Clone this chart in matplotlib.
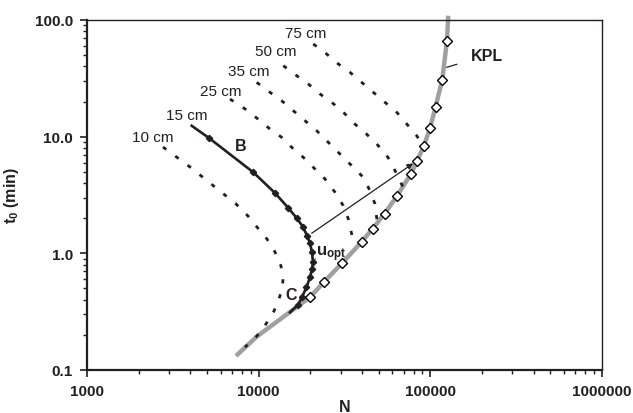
import numpy as np
import matplotlib
matplotlib.use('Agg')
import matplotlib.pyplot as plt
from matplotlib.ticker import LogLocator, NullFormatter

plt.rcParams['font.family'] = ['Liberation Sans', 'DejaVu Sans']
plt.rcParams['mathtext.fontset'] = 'custom'
plt.rcParams['mathtext.rm'] = 'Liberation Sans'
plt.rcParams['mathtext.bf'] = 'Liberation Sans:bold'

# Column-length curves (N, t0 in min)
n_10 = [2771, 3981, 5567, 7379, 8667, 9779, 11180, 12450, 13500, 13860, 13310, 12290, 11030, 9779, 8326]
t_10 = [8.15, 5.50, 3.70, 2.65, 2.09, 1.68, 1.327, 1.027, 0.779, 0.579, 0.431, 0.320, 0.248, 0.196, 0.157]

n_25 = [6808, 8326, 9739, 11640, 13620, 15570, 18200, 20810, 24340, 27840, 31120, 33280, 34840, 35930]
t_25 = [21.0, 17.3, 14.45, 11.63, 9.87, 8.11, 6.65, 5.46, 4.34, 3.34, 2.56, 1.97, 1.465, 1.179]

n_35 = [9739, 11640, 13620, 15910, 18620, 21780, 25440, 29770, 34840, 40690, 44520, 47610, 48710, 49230]
t_35 = [29.2, 24.0, 20.3, 16.7, 13.7, 11.25, 8.95, 7.10, 5.64, 4.48, 3.44, 2.65, 2.01, 1.82]

n_50 = [13920, 16660, 19460, 22770, 26640, 31120, 36410, 42590, 49770, 56670, 62270, 67470, 69310]
t_50 = [40.6, 33.3, 28.3, 23.2, 19.7, 16.2, 12.8, 10.5, 8.37, 6.65, 5.11, 4.01, 3.70]

n_75 = [20810, 24900, 29100, 34040, 39830, 46530, 54430, 63690, 74410, 83290, 89410]
t_75 = [62.3, 51.1, 42.0, 35.6, 29.2, 24.0, 19.7, 16.2, 12.4, 10.19, 8.65]

# 15 cm measured curve (B -> C)
n_15 = [4073, 5136, 9305, 12450, 14880, 16720, 18200, 19120, 19910, 20450, 20730, 20450, 19910, 18990, 17880, 16950, 15220]
t_15 = [12.4, 9.74, 4.95, 3.29, 2.45, 1.99, 1.67, 1.416, 1.226, 1.02, 0.838, 0.734, 0.623, 0.511, 0.422, 0.361, 0.312]

# kinetic plot limit
n_kpl_pts = [19910, 24080, 30580, 39830, 46150, 54100, 64200, 77200, 83600, 91900, 99500, 107400, 117400, 125000]
t_kpl_pts = [0.420, 0.571, 0.821, 1.258, 1.626, 2.19, 3.12, 4.81, 6.15, 8.37, 11.8, 18.07, 30.8, 66.4]
n_kpl_line = [7379, 9779, 15220] + n_kpl_pts + [127200]
t_kpl_line = [0.132, 0.194, 0.314] + t_kpl_pts + [108.8]

# u_opt arrow: from 15 cm curve to the KPL
arrow_start = (20370, 1.485)
arrow_end = (79580, 5.91)

length_labels = ['10 cm', '15 cm', '25 cm', '35 cm', '50 cm', '75 cm']
label_pos = [(2424, 9.93), (3824, 15.3), (6034, 24.6), (8726, 36.5), (12530, 53.7), (18870, 77.4)]

ink = '#231f20'

fig = plt.figure(figsize=(6.33, 4.14), dpi=100)
ax = fig.add_axes([0.1374, 0.1039, 0.8136, 0.8454])
ax.set_xscale('log')
ax.set_yscale('log')
ax.set_xlim(1000, 1000000)
ax.set_ylim(0.1, 100)

# KPL
ax.plot(n_kpl_line, t_kpl_line, color='#a0a0a0', lw=3.2, solid_capstyle='butt', clip_on=False, zorder=2)

# dashed column-length curves
for n, t in [(n_10, t_10), (n_25, t_25), (n_35, t_35), (n_50, t_50), (n_75, t_75)]:
    ln, = ax.plot(n, t, color=ink, lw=2.0, zorder=3)
    ln.set_dashes((1.5, 4.0))

# 15 cm curve
ax.plot(n_15, t_15, color=ink, lw=1.9, zorder=4)
ax.plot(n_15[1:-1], t_15[1:-1], ls='none', marker='D', ms=3.2, color=ink, zorder=5)

# KPL diamonds
ax.plot(n_kpl_pts, t_kpl_pts, ls='none', marker='D', ms=5.2, mfc='white', mec='black', mew=1.0, zorder=6)

# arrow
ax.annotate('', xy=arrow_end, xytext=arrow_start,
            arrowprops=dict(arrowstyle='-|>', color=ink, lw=0.9, mutation_scale=9, shrinkA=0, shrinkB=0),
            zorder=7)

# labels
for lab, (x, y) in zip(length_labels, label_pos):
    ax.text(x, y, lab, fontsize=11, color=ink, ha='center', va='center')

ax.text(7889, 8.48, 'B', fontsize=11.5, fontweight='bold', color=ink, ha='center', va='center')
ax.text(15430, 0.448, 'C', fontsize=11.5, fontweight='bold', color=ink, ha='center', va='center')
ax.text(21500, 1.0, r'$\mathbf{u_{opt}}$', fontsize=12, color=ink, ha='left', va='center')
ax.plot([20900, 21500], [0.862, 0.90], color='#888888', lw=0.8)
ax.annotate('KPL', xy=(124500, 39.3), xytext=(212400, 49.6), fontsize=11.5, fontweight='bold',
            color=ink, ha='center', va='center',
            arrowprops=dict(arrowstyle='-', color=ink, lw=0.9, shrinkA=8, shrinkB=0))

# axes styling
ax.set_xticks([1000, 10000, 100000, 1000000])
ax.set_xticklabels(['1000', '10000', '100000', '1000000'])
ax.set_yticks([0.1, 1, 10, 100])
ax.set_yticklabels(['0.1', '1.0', '10.0', '100.0'])
ax.xaxis.set_minor_locator(LogLocator(base=10, subs=np.arange(2, 10)))
ax.yaxis.set_minor_locator(LogLocator(base=10, subs=np.arange(2, 10)))
ax.xaxis.set_minor_formatter(NullFormatter())
ax.yaxis.set_minor_formatter(NullFormatter())
for lab in ax.get_xticklabels() + ax.get_yticklabels():
    lab.set_fontweight('bold')
    lab.set_fontsize(11)
    lab.set_color(ink)
ax.tick_params(which='major', direction='out', length=5, width=1.2, pad=5, colors=ink)
ax.tick_params(which='minor', direction='out', length=3, width=1.0, colors=ink)
ax.tick_params(top=False, right=False, which='both')
ax.spines['left'].set_linewidth(1.6)
ax.spines['bottom'].set_linewidth(1.6)
ax.spines['top'].set_linewidth(1.0)
ax.spines['right'].set_linewidth(1.0)
for s in ax.spines.values():
    s.set_color(ink)

ax.set_xlabel('N', fontsize=11.5, fontweight='bold', color=ink, labelpad=1)
ax.set_ylabel(r'$\mathbf{t_0}$ (min)', fontsize=11.5, fontweight='bold', color=ink, labelpad=10)

fig.savefig('out.png', dpi=100)
